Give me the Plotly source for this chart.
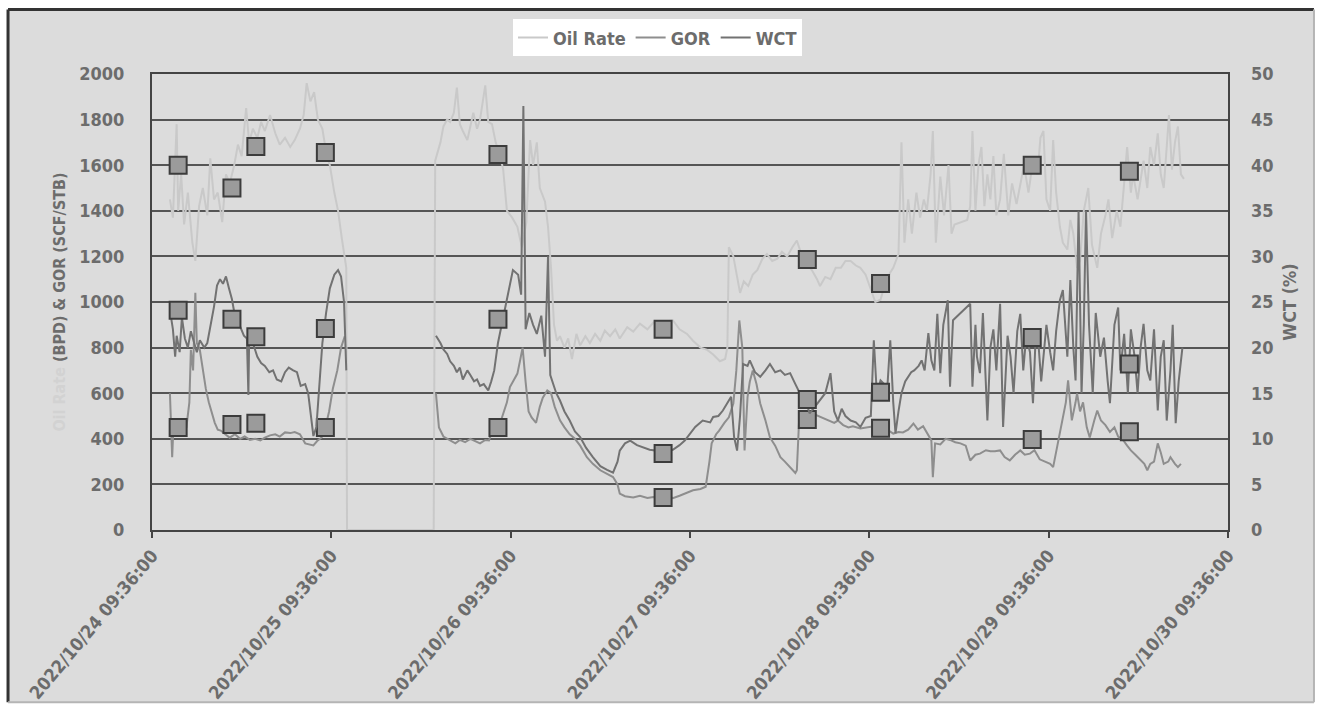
import numpy as np
import pandas as pd
import plotly.graph_objects as go

# ---- production data: elapsed hours from 2022/10/24 09:36:00 ----
start = pd.Timestamp("2022-10-24 09:36:00")

oil_hours = [2.4, 2.8, 3.3, 3.5, 3.9, 4.3, 4.8, 5.4, 5.8, 6.3, 6.8, 7.4, 7.8, 8.3, 8.8, 9.4, 9.9, 10.4, 11.0, 11.5,
             12.0, 12.6, 13.0, 13.5, 14.1, 14.6, 15.1, 15.8, 16.5, 17.1, 17.8, 18.5, 19.1, 19.8, 20.3, 20.7, 21.2,
             21.7, 22.2, 22.8, 23.3, 23.8, 24.4, 24.9, 25.4, 26.0, 26.1, 37.7, 37.9, 38.6, 39.0, 39.5, 39.9, 40.4,
             40.8, 41.2, 41.6, 42.2, 42.6, 43.0, 43.5, 43.9, 44.6, 45.0, 45.5, 46.0, 46.6, 47.0, 47.5, 48.2, 48.9,
             49.5, 50.1, 50.6, 51.0, 51.5, 51.9, 52.6, 53.0, 53.4, 53.8, 54.2, 54.6, 55.2, 55.7, 56.2, 56.8, 57.3,
             58.0, 58.6, 59.3, 60.0, 60.6, 61.3, 62.0, 62.6, 63.6, 64.4, 65.3, 66.3, 67.1, 68.0, 68.9, 69.7, 70.6,
             71.6, 72.4, 73.4, 74.3, 75.1, 76.0, 76.7, 77.0, 77.2, 77.8, 78.3, 78.7, 79.2, 79.8, 80.4, 81.0, 81.7,
             82.3, 83.0, 83.7, 84.3, 85.0, 85.7, 86.3, 87.0, 87.7, 88.3, 89.0, 89.4, 90.1, 90.8, 91.5, 92.2, 92.8,
             93.5, 94.2, 94.8, 95.5, 96.2, 96.8, 97.5, 98.1, 98.8, 99.2, 99.9, 100.3, 100.7, 101.2, 101.7, 102.3,
             102.8, 103.3, 103.7, 104.2, 104.5, 104.9, 105.5, 106.0, 106.6, 107.0, 107.4, 108.2, 109.1, 109.5,
             109.8, 110.2, 110.6, 111.0, 111.4, 111.8, 112.2, 112.6, 113.0, 113.5, 114.0, 114.6, 115.1, 115.7,
             116.2, 116.7, 117.3, 117.9, 118.5, 118.9, 119.3, 119.7, 120.2, 120.6, 121.0, 121.5, 121.9, 122.5,
             122.9, 123.3, 123.8, 124.2, 124.7, 125.3, 125.8, 126.5, 127.0, 127.6, 128.0, 128.5, 129.1, 129.6,
             130.1, 130.5, 131.0, 131.3, 131.9, 132.3, 132.7, 133.2, 133.6, 134.1, 134.6, 135.0, 135.4, 135.8,
             136.1, 136.5, 136.9, 137.3, 137.7, 138.1]
oil_rate = [1450, 1370, 1780, 1400, 1560, 1340, 1480, 1260, 1180, 1420, 1500, 1380, 1630, 1450, 1480, 1350, 1560,
            1520, 1600, 1690, 1640, 1850, 1700, 1760, 1720, 1790, 1750, 1820, 1740, 1690, 1720, 1680, 1710, 1760,
            1820, 1960, 1880, 1920, 1800, 1760, 1660, 1600, 1480, 1400, 1280, 1150, 0, 0, 1620, 1700, 1770, 1800,
            1790, 1830, 1940, 1780, 1750, 1710, 1770, 1830, 1760, 1800, 1950, 1790, 1780, 1700, 1640, 1580, 1400,
            1370, 1330, 1240, 1350, 1710, 1600, 1700, 1500, 1440, 1330, 1150, 900, 830, 850, 800, 840, 750, 860,
            810, 850, 820, 860, 830, 875, 850, 880, 840, 890, 870, 905, 880, 910, 900, 915, 920, 880, 860, 830, 800,
            790, 770, 740, 750, 800, 1240, 1200, 1100, 1040, 1090, 1070, 1120, 1140, 1190, 1210, 1180, 1190, 1220,
            1200, 1240, 1270, 1200, 1170, 1140, 1100, 1070, 1110, 1100, 1150, 1150, 1180, 1180, 1160, 1150, 1120,
            1060, 1000, 1010, 1080, 1130, 1150, 1210, 1700, 1260, 1450, 1300, 1480, 1370, 1450, 1400, 1560, 1750,
            1260, 1550, 1380, 1600, 1300, 1340, 1350, 1360, 1420, 1750, 1400, 1600, 1680, 1420, 1560, 1450, 1640,
            1380, 1450, 1650, 1380, 1520, 1430, 1520, 1600, 1480, 1620, 1560, 1720, 1750, 1450, 1400, 1710, 1480,
            1330, 1260, 1230, 1360, 1300, 1150, 1180, 1400, 1500, 1250, 1150, 1300, 1380, 1450, 1280, 1400, 1330,
            1520, 1680, 1480, 1560, 1450, 1540, 1620, 1500, 1680, 1600, 1740, 1560, 1500, 1680, 1820, 1580, 1700,
            1770, 1560, 1540]

gor_hours = [2.4, 2.7, 2.9, 3.3, 3.7, 4.1, 4.6, 5.0, 5.2, 5.5, 5.8, 6.0, 6.4, 6.8, 7.2, 7.6, 8.0, 8.4, 8.8, 9.2,
             9.8, 10.4, 11.1, 11.8, 12.4, 13.1, 13.8, 14.5, 15.1, 15.8, 16.5, 17.1, 17.8, 18.5, 19.1, 19.8, 20.5,
             21.0, 21.6, 22.1, 22.7, 23.2, 23.7, 24.2, 24.8, 25.3, 25.8, 30.0, 38.0, 38.4, 39.0, 39.5, 39.9, 40.6,
             41.2, 41.9, 42.6, 43.2, 43.9, 44.6, 45.1, 45.5, 46.1, 46.6, 47.0, 47.5, 47.9, 48.5, 48.9, 49.3, 49.6,
             50.0, 50.4, 50.8, 51.4, 51.9, 52.3, 52.9, 53.4, 53.9, 54.6, 55.2, 55.9, 56.6, 57.3, 58.2, 59.0, 60.0,
             60.9, 61.7, 62.3, 62.6, 63.3, 64.4, 65.3, 66.3, 67.1, 68.0, 68.9, 69.7, 70.6, 71.6, 72.4, 73.4, 74.1,
             74.6, 74.9, 75.5, 75.9, 76.6, 77.2, 77.8, 78.2, 78.6, 79.0, 79.3, 79.7, 80.0, 80.4, 80.9, 81.4, 82.1,
             82.7, 83.4, 84.1, 84.7, 85.4, 86.1, 86.3, 86.6, 87.1, 87.7, 88.5, 89.2, 89.9, 90.6, 91.3, 91.8, 92.5,
             93.2, 93.8, 94.8, 95.7, 96.6, 97.5, 98.4, 99.2, 99.9, 100.5, 101.2, 101.9, 102.5, 103.2, 103.8, 104.3,
             104.5, 104.8, 105.5, 106.2, 106.8, 107.5, 108.2, 108.9, 109.5, 110.2, 110.8, 111.6, 112.2, 112.8,
             113.5, 114.1, 114.8, 115.5, 116.2, 116.8, 117.5, 118.1, 118.8, 119.5, 120.2, 120.6, 121.0, 121.3,
             121.7, 121.9, 122.3, 122.6, 122.9, 123.1, 123.6, 123.8, 124.2, 124.6, 125.1, 125.5, 126.1, 126.5,
             127.0, 127.6, 128.2, 128.8, 129.3, 130.0, 130.5, 131.0, 131.6, 132.3, 132.8, 133.2, 133.6, 134.1,
             134.6, 135.0, 135.4, 136.0, 136.3, 136.9, 137.3, 137.7]
gor = [600, 319, 480, 430, 450, 410, 450, 560, 790, 700, 1040, 820, 790, 700, 620, 560, 510, 470, 440, 436, 420,
       405, 420, 400, 410, 395, 400, 393, 405, 415, 420, 410, 428, 425, 430, 420, 380, 375, 371, 390, 406, 450, 520,
       620, 700, 800, 850, None, 599, 450, 410, 400, 393, 380, 395, 385, 400, 390, 380, 395, 393, 430, 450, 470, 510,
       560, 627, 660, 686, 750, 800, 650, 520, 494, 470, 540, 580, 612, 600, 540, 481, 450, 420, 400, 370, 319, 290,
       262, 245, 232, 200, 160, 148, 143, 150, 140, 145, 140, 148, 140, 150, 165, 174, 180, 190, 300, 380, 420, 436,
       470, 494, 555, 700, 919, 800, 349, 583, 650, 700, 640, 555, 480, 406, 370, 319, 300, 275, 250, 262, 480, 510,
       500, 510, 500, 490, 481, 470, 480, 460, 450, 455, 445, 450, 455, 446, 440, 423, 430, 428, 440, 467, 440, 455,
       420, 393, 232, 380, 375, 400, 395, 385, 380, 370, 305, 330, 335, 350, 345, 345, 349, 320, 305, 330, 349, 330,
       335, 350, 310, 300, 290, 276, 340, 393, 450, 481, 560, 656, 540, 481, 560, 599, 520, 560, 450, 406, 480, 524,
       480, 460, 430, 450, 410, 393, 370, 349, 330, 305, 290, 262, 290, 300, 380, 340, 290, 300, 319, 290, 276, 290]

wct_hours = [2.4, 2.8, 3.1, 3.3, 3.7, 4.0, 4.4, 4.8, 5.2, 5.6, 6.0, 6.4, 7.0, 7.4, 7.9, 8.3, 8.7, 9.1, 9.5, 9.9,
             10.3, 10.7, 11.2, 11.8, 12.3, 12.7, 12.9, 13.0, 13.5, 14.1, 14.6, 15.1, 15.7, 16.2, 16.7, 17.3, 17.8,
             18.3, 18.9, 19.4, 19.9, 20.5, 20.9, 21.3, 21.6, 22.0, 22.4, 22.8, 23.3, 23.8, 24.4, 24.9, 25.3, 25.7,
             26.0, 30.0, 38.0, 38.6, 39.0, 39.5, 39.9, 40.4, 40.8, 41.2, 41.6, 42.2, 42.6, 43.1, 43.5, 43.9, 44.4,
             45.0, 45.4, 45.8, 46.3, 46.9, 47.3, 47.8, 48.3, 49.0, 49.4, 49.7, 50.0, 50.5, 51.0, 51.5, 52.1, 52.6,
             53.0, 53.3, 53.7, 54.1, 54.6, 55.2, 55.9, 56.6, 57.3, 58.1, 59.0, 60.0, 60.9, 61.7, 62.3, 62.6, 63.3,
             64.0, 64.9, 65.7, 66.6, 67.6, 68.6, 69.7, 70.6, 71.3, 72.0, 72.7, 73.7, 74.7, 75.1, 75.8, 76.4, 77.1,
             77.5, 77.9, 78.3, 78.7, 79.1, 79.7, 80.0, 80.7, 81.4, 82.1, 82.7, 83.4, 84.1, 84.7, 85.4, 86.1, 86.7,
             87.4, 88.0, 88.7, 89.4, 90.1, 90.8, 91.3, 91.8, 92.3, 92.8, 93.5, 94.2, 94.8, 95.5, 96.2, 96.6, 97.0,
             97.5, 98.0, 98.4, 98.8, 99.2, 99.5, 99.9, 100.3, 100.8, 101.2, 101.6, 102.0, 102.6, 103.0, 103.4,
             103.9, 104.3, 104.7, 105.1, 105.5, 105.9, 106.5, 106.8, 107.2, 109.5, 109.8, 110.2, 110.4, 110.8,
             111.2, 111.8, 112.2, 112.6, 113.0, 113.5, 113.9, 114.5, 114.9, 115.3, 115.8, 116.2, 116.6, 117.0,
             117.5, 117.9, 118.3, 118.6, 119.0, 119.3, 119.7, 120.2, 120.6, 121.0, 121.5, 121.9, 122.5, 122.9,
             123.3, 123.6, 124.0, 124.4, 124.7, 125.0, 125.4, 125.9, 126.3, 126.9, 127.4, 127.9, 128.2, 128.8,
             129.3, 129.6, 130.1, 130.6, 131.0, 131.5, 131.9, 132.3, 132.7, 133.2, 133.6, 134.1, 134.6, 135.0,
             135.4, 135.8, 136.3, 136.6, 137.0, 137.4, 137.9]
wct = [24.1, 22.0, 19.0, 21.3, 19.5, 23.3, 21.0, 20.0, 21.8, 20.5, 19.5, 20.8, 20.0, 20.5, 22.5, 24.5, 26.8, 27.5,
       27.0, 27.8, 26.5, 25.3, 23.0, 22.3, 21.3, 21.0, 14.8, 20.8, 20.5, 19.0, 18.3, 18.0, 17.3, 17.5, 16.5, 16.3,
       17.3, 17.8, 17.5, 17.3, 15.8, 16.0, 15.0, 12.0, 10.3, 11.3, 16.3, 20.5, 23.8, 26.5, 28.0, 28.5, 27.8, 25.0,
       17.5, None, 21.3, 20.5, 19.8, 19.3, 18.5, 18.0, 17.3, 17.8, 16.5, 17.5, 17.0, 16.3, 16.5, 15.8, 16.0, 15.3,
       16.3, 17.5, 20.5, 23.0, 24.5, 26.8, 28.5, 28.0, 25.8, 46.5, 22.0, 23.8, 22.5, 21.5, 23.5, 19.0, 30.0, 17.0,
       16.0, 15.0, 14.2, 13.0, 12.0, 10.8, 10.2, 9.0, 8.0, 7.0, 6.6, 6.3, 7.5, 8.7, 9.5, 9.8, 9.3, 9.1, 8.8, 8.7,
       8.6, 8.8, 9.3, 9.8, 10.5, 11.3, 12.0, 11.8, 12.4, 12.5, 13.1, 14.0, 14.6, 10.2, 8.7, 12.5, 18.2, 18.0, 18.6,
       17.3, 16.8, 17.5, 18.2, 17.3, 17.5, 17.0, 17.2, 16.0, 15.0, 14.4, 12.8, 13.5, 14.2, 15.0, 17.2, 13.0, 12.0,
       13.3, 12.5, 12.0, 11.8, 11.3, 12.3, 12.5, 20.8, 15.0, 16.4, 16.0, 15.5, 20.8, 14.0, 10.6, 13.0, 15.0, 16.3,
       16.8, 17.3, 17.5, 18.0, 18.6, 17.5, 21.6, 18.6, 17.5, 23.7, 17.2, 22.5, 25.2, 15.7, 23.0, 24.8, 15.7, 22.5,
       19.0, 17.2, 23.8, 12.0, 20.0, 22.0, 17.5, 24.8, 11.3, 21.3, 19.0, 15.0, 21.8, 23.7, 17.5, 21.3, 19.5, 13.9,
       22.0, 20.8, 16.3, 19.0, 22.5, 19.5, 17.5, 21.8, 25.2, 26.3, 19.0, 27.4, 20.0, 16.4, 35.0, 15.0, 22.5, 35.0,
       22.5, 15.0, 23.8, 19.0, 21.1, 16.3, 13.9, 22.5, 24.4, 17.5, 21.5, 15.0, 22.0, 19.0, 15.0, 20.0, 22.6, 17.5,
       16.4, 22.0, 13.1, 19.0, 20.8, 12.0, 17.5, 22.5, 11.7, 16.3, 20.0]

# ---- well test points ----
test_hours = [3.5, 10.7, 13.9, 23.2, 46.3, 68.4, 87.7, 97.5, 117.8, 130.8]
test_oil = [1600, 1500, 1682, 1656, 1647, 880, 1186, 1081, 1600, 1573]
test_gor = [450, 463, 468, 450, 450, 143, 485, 446, 397, 431]
test_wct = [24.1, 23.1, 21.2, 22.1, 23.1, 8.4, 14.3, 15.1, 21.1, 18.2]

day_ticks = [start + pd.Timedelta(days=d) for d in range(7)]
left_ticks = list(range(0, 2001, 200))
right_ticks = list(range(0, 51, 5))


def to_time(hours):
    return start + pd.to_timedelta(np.asarray(hours, dtype=float), unit="h")


FONT = "Liberation Sans Narrow, DejaVu Sans Condensed, Liberation Sans, sans-serif"
TXT = "#6c6c6c"
C_OIL, C_GOR, C_WCT = "#c9c9c9", "#8e8e8e", "#727272"

fig = go.Figure()
fig.add_trace(go.Scatter(x=to_time(oil_hours), y=oil_rate, name="Oil Rate", mode="lines",
                         line=dict(color=C_OIL, width=2)))
fig.add_trace(go.Scatter(x=to_time(gor_hours), y=gor, name="GOR", mode="lines",
                         line=dict(color=C_GOR, width=2)))
fig.add_trace(go.Scatter(x=to_time(wct_hours), y=wct, name="WCT", mode="lines", yaxis="y2",
                         line=dict(color=C_WCT, width=2)))

mk = dict(symbol="square", size=17, color="#9b9b9b", line=dict(color="#3c3c3c", width=2))
fig.add_trace(go.Scatter(x=to_time(test_hours), y=test_oil, mode="markers", marker=mk, showlegend=False))
fig.add_trace(go.Scatter(x=to_time(test_hours), y=test_gor, mode="markers", marker=mk, showlegend=False))
fig.add_trace(go.Scatter(x=to_time(test_hours), y=test_wct, mode="markers", marker=mk, yaxis="y2",
                         showlegend=False))

# frame around the whole chart
fig.add_shape(type="rect", xref="paper", yref="paper", x0=-0.1338, x1=1.0799, y0=-0.378, y1=1.1417,
              fillcolor="#dcdcdc", line=dict(width=0), layer="below")
fig.add_shape(type="line", xref="paper", yref="paper", x0=-0.1338, x1=1.0799, y0=1.1417, y1=1.1417,
              line=dict(color="#333333", width=3))
fig.add_shape(type="line", xref="paper", yref="paper", x0=-0.1338, x1=-0.1338, y0=-0.378, y1=1.1417,
              line=dict(color="#333333", width=3))
fig.add_shape(type="line", xref="paper", yref="paper", x0=1.0799, x1=1.0799, y0=-0.378, y1=1.1417,
              line=dict(color="#b5b5b5", width=2))
fig.add_shape(type="line", xref="paper", yref="paper", x0=-0.1338, x1=1.0799, y0=-0.378, y1=-0.378,
              line=dict(color="#b5b5b5", width=2))

fig.update_layout(
    width=1317, height=704,
    margin=dict(l=152, r=89, t=74, b=174, autoexpand=False),
    paper_bgcolor="white", plot_bgcolor="white",
    font=dict(family=FONT, color=TXT, size=18, weight="bold"),
    showlegend=True,
    legend=dict(orientation="h", x=0.3355, y=1.1197, xanchor="left", yanchor="top",
                bgcolor="white", borderwidth=0, font=dict(size=18, color=TXT, family=FONT, weight="bold"),
                itemwidth=30, tracegroupgap=0),
    xaxis=dict(range=[day_ticks[0], day_ticks[-1]], tickvals=day_ticks,
               ticktext=[d.strftime("%Y/%m/%d %H:%M:%S") for d in day_ticks],
               tickangle=-50, ticks="outside", ticklen=6, tickwidth=2, tickcolor="#444444",
               showline=True, linecolor="#444444", linewidth=2, mirror=True, showgrid=False, zeroline=False,
               tickfont=dict(size=18, color=TXT, family=FONT, weight="bold")),
    yaxis=dict(range=[0, 2000], tickvals=left_ticks, ticks="", showgrid=True, gridcolor="#555555", gridwidth=2,
               showline=True, linecolor="#444444", linewidth=2, mirror=True, zeroline=False,
               ticklabelstandoff=22,
               tickfont=dict(size=18, color=TXT, family=FONT, weight="bold"),
               title=dict(text='<span style="color:#d2d2d2">Oil Rate</span> (BPD) &amp; GOR (SCF/STB)',
                          standoff=10, font=dict(size=16, color=TXT, family=FONT, weight="bold"))),
    yaxis2=dict(range=[0, 50], tickvals=right_ticks, overlaying="y", side="right", showgrid=False,
                zeroline=False, ticks="", ticklabelstandoff=22,
                tickfont=dict(size=18, color=TXT, family=FONT, weight="bold"),
                title=dict(text="WCT (%)", standoff=10,
                           font=dict(size=18, color=TXT, family=FONT, weight="bold"))),
)

fig.write_html("out.html")
